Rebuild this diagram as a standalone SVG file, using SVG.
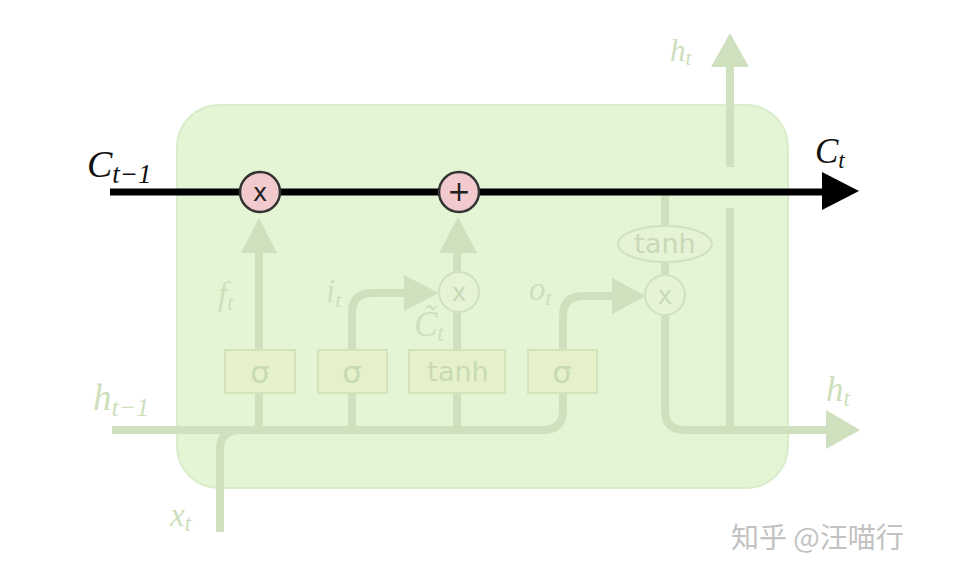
<svg xmlns="http://www.w3.org/2000/svg" width="964" height="578" viewBox="0 0 964 578">
<defs>
<style>
.ln{fill:none;stroke:#cfe0bf;stroke-width:8;stroke-linecap:butt}
.ah{fill:#cfe0bf}
.gate{fill:#e6f1cc;stroke:#d3e3bc;stroke-width:2}
.gt{font-family:"DejaVu Sans",sans-serif;fill:#c8dab4;text-anchor:middle}
.op{fill:#e5f3d6;stroke:#d0e1c0;stroke-width:2}
.lbl{font-family:"Liberation Serif",serif;font-style:italic;fill:#cddfbd}
.blk{font-family:"Liberation Serif",serif;font-style:italic;fill:#111}
.pk{fill:#f2c9cc;stroke:#333;stroke-width:2.5}
</style>
</defs>
<rect width="964" height="578" fill="#fff"/>
<g id="cell"><rect x="177" y="105" width="611" height="383" rx="42" fill="#e3f5d5" stroke="#d9eccb" stroke-width="2"/></g>
<g id="connectors">
<path class="ln" d="M112 430 H543 Q563 430 563 410 V393"/>
<path class="ln" d="M220 532 V450 Q220 430 240 430"/>
<path class="ln" d="M259 430 V253"/>
<polygon class="ah" points="241,253 259,218 277,253"/>
<path class="ln" d="M352 430 V313 Q352 293 372 293 H406"/>
<polygon class="ah" points="404,275 439,293 404,311"/>
<path class="ln" d="M457 430 V253"/>
<polygon class="ah" points="439,253 458,217 477,253"/>
<path class="ln" d="M563 350 V316 Q563 296 583 296 H614"/>
<polygon class="ah" points="612,278 646,296 612,314"/>
<path class="ln" d="M665 193 V275"/>
<path class="ln" d="M665 315 V410 Q665 430 685 430 H828"/>
<polygon class="ah" points="826,410 860,430 826,449"/>
<path class="ln" d="M730 430 V208"/>
<path class="ln" d="M730 167 V65"/>
<polygon class="ah" points="711,67 730,33 749,67"/>
</g>
<g id="gate-f"><rect class="gate" x="225" y="350" width="70" height="43"/><text class="gt" x="260" y="383" font-size="31">σ</text></g>
<g id="gate-i"><rect class="gate" x="318" y="350" width="69" height="43"/><text class="gt" x="352" y="383" font-size="31">σ</text></g>
<g id="gate-c"><rect class="gate" x="409" y="350" width="96" height="43"/><text class="gt" x="458" y="381" font-size="27">tanh</text></g>
<g id="gate-o"><rect class="gate" x="528" y="350" width="69" height="43"/><text class="gt" x="562" y="383" font-size="31">σ</text></g>
<g id="mul-i"><circle class="op" cx="459" cy="292" r="20"/><text class="gt" x="459" y="301" font-size="24">x</text></g>
<g id="mul-o"><circle class="op" cx="665" cy="295" r="20"/><text class="gt" x="665" y="304" font-size="24">x</text></g>
<g id="tanh-out"><ellipse class="op" cx="665" cy="244" rx="47" ry="18"/><text class="gt" x="665" y="253" font-size="27">tanh</text></g>
<g id="cellstate">
<line x1="110" y1="192" x2="824" y2="192" stroke="#000" stroke-width="7"/>
<polygon points="822,172 859,191 822,210" fill="#000"/>
</g>
<g id="mul-f"><circle class="pk" cx="260" cy="192" r="20"/><text x="260" y="201" font-family="DejaVu Sans,sans-serif" font-size="24" fill="#222" text-anchor="middle">x</text></g>
<g id="add"><circle class="pk" cx="459" cy="192" r="20"/><text x="459" y="201" font-family="DejaVu Sans,sans-serif" font-size="28" fill="#222" text-anchor="middle">+</text></g>
<g id="labels">
<text class="blk" x="87" y="177" font-size="38">C<tspan font-size="27" dy="6">t−1</tspan></text>
<text class="blk" x="815" y="163" font-size="35">C<tspan font-size="23" dy="5">t</tspan></text>
<text class="lbl" x="670" y="61" font-size="31">h<tspan font-size="21" dy="4">t</tspan></text>
<text class="lbl" x="218" y="305" font-size="33">f<tspan font-size="22" dy="5">t</tspan></text>
<text class="lbl" x="326" y="302" font-size="33">i<tspan font-size="22" dy="5">t</tspan></text>
<text class="lbl" x="529" y="300" font-size="33">o<tspan font-size="22" dy="5">t</tspan></text>
<text class="lbl" x="414" y="336" font-size="35">C̃<tspan font-size="23" dy="5">t</tspan></text>
<text class="lbl" x="93" y="410" font-size="37">h<tspan font-size="26" dy="6">t−1</tspan></text>
<text class="lbl" x="826" y="401" font-size="35">h<tspan font-size="23" dy="5">t</tspan></text>
<text class="lbl" x="170" y="526" font-size="33">x<tspan font-size="23" dy="5">t</tspan></text>
</g>
<text x="731" y="548" font-family="Noto Sans CJK SC,sans-serif" font-size="28" fill="#c2c2c2">知乎 @汪喵行</text>
</svg>
